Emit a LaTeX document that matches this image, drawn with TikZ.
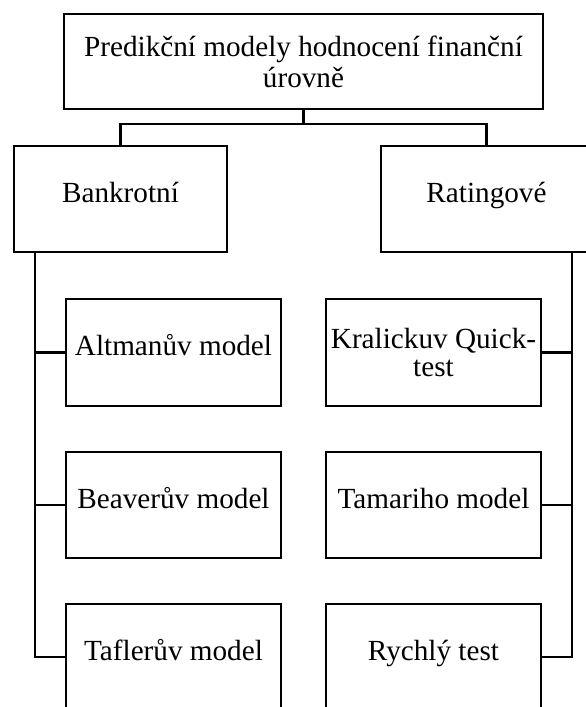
\documentclass[tikz,border=0pt]{standalone}
\usepackage{fontspec}
\setmainfont{Liberation Serif}
\begin{document}
\begin{tikzpicture}[x=1pt,y=-1pt,
  box/.style={draw, line width=2.4pt, rectangle, inner sep=0pt, align=center,
    font=\fontsize{29.2}{31}\selectfont},
  one/.style={text height=0.66em, text depth=0pt},
  conn/.style={draw, line width=2.4pt}]
\useasboundingbox (0,0) rectangle (586,707);
\clip (0,0) rectangle (586,707);
\node[box, minimum width=479pt, minimum height=95pt] (top) at (303.5,61.5) {Predikční modely hodnocení finanční\\úrovně};
\node[box, one, minimum width=213pt, minimum height=106pt] (bank) at (120.5,199) {Bankrotní};
\node[box, one, minimum width=211pt, minimum height=106pt] (rat) at (486.5,199) {Ratingové};
\node[box, one, minimum width=215pt, minimum height=107pt] (alt) at (173.5,352.5) {Altmanův model};
\node[box, one, minimum width=215pt, minimum height=106pt] (bea) at (173.5,505) {Beaverův model};
\node[box, one, minimum width=215pt, minimum height=106pt] (taf) at (173.5,657) {Taflerův model};
\node[box, minimum width=215pt, minimum height=107pt, font=\fontsize{29.2}{28}\selectfont] (kra) at (433.5,352.5) {Kralickuv Quick-\\test};
\node[box, one, minimum width=215pt, minimum height=106pt] (tam) at (433.5,505) {Tamariho model};
\node[box, one, minimum width=215pt, minimum height=106pt] (ryc) at (433.5,657) {Rychlý test};
\coordinate (mid) at (303.5,124);
\coordinate (ltop) at (35,252);
\coordinate (rtop) at (572,252);
\draw[conn] (top.south) -- (mid) -| (bank.north);
\draw[conn] (mid) -| (rat.north);
\draw[conn] (ltop) |- (taf.west);
\draw[conn] (ltop |- alt.west) -- (alt.west);
\draw[conn] (ltop |- bea.west) -- (bea.west);
\draw[conn] (rtop) |- (ryc.east);
\draw[conn] (rtop |- kra.east) -- (kra.east);
\draw[conn] (rtop |- tam.east) -- (tam.east);
\end{tikzpicture}
\end{document}
